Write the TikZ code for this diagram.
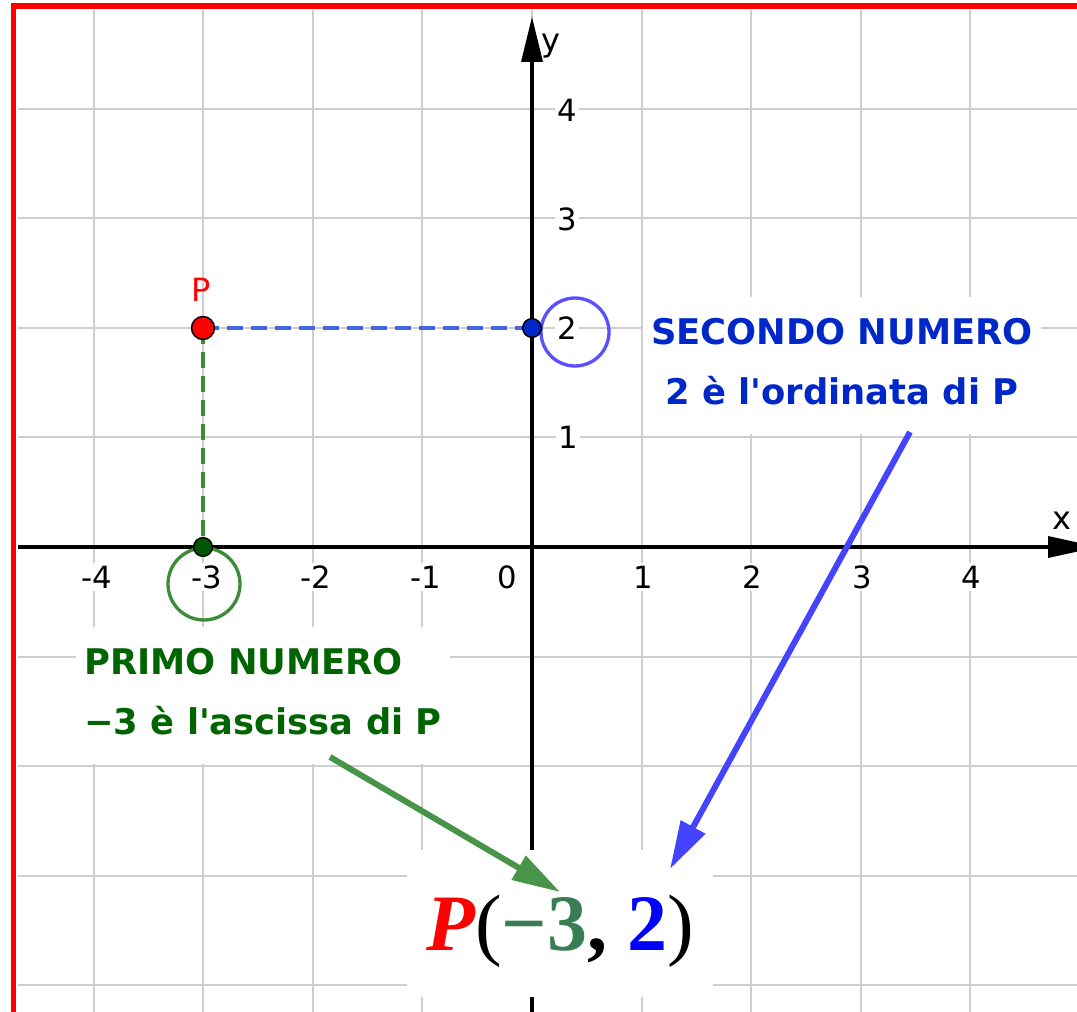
\documentclass[tikz,border=0pt]{standalone}
\usepackage{fontspec}
\setmainfont{DejaVu Sans}[Ligatures=TeXOff]
\newfontfamily\serifF{Liberation Serif}
\usetikzlibrary{arrows.meta}
\definecolor{gridc}{RGB}{206,206,206}
\definecolor{bordred}{RGB}{255,0,0}
\definecolor{txtgreen}{RGB}{0,100,0}
\definecolor{txtblue}{RGB}{0,40,200}
\definecolor{arrgreen}{RGB}{72,148,72}
\definecolor{arrblue}{RGB}{68,68,255}
\definecolor{circblue}{RGB}{90,80,255}
\definecolor{circgreen}{RGB}{60,140,60}
\definecolor{dashblue}{RGB}{70,100,220}
\definecolor{dashgreen}{RGB}{60,140,60}
\definecolor{ptblue}{RGB}{0,40,200}
\definecolor{ptgreen}{RGB}{0,85,0}
\definecolor{fgreen}{RGB}{58,125,85}
\begin{document}
\begin{tikzpicture}[x=0.75pt,y=-0.75pt,
  gridline/.style={draw=gridc, line width=1.4pt},
  axisline/.style={draw=black, line width=2.6pt},
  ticklab/.style={fill=white, inner sep=2pt, font=\fontsize{23}{27}\selectfont},
  infobox/.style={fill=white, inner xsep=6pt, inner ysep=16pt, font=\bfseries\fontsize{26.5}{45}\selectfont},
  pointdot/.style={draw=black, line width=1.1pt},
  callarrow/.style={line width=4.5pt, -{Triangle[length=36pt,width=20pt]}},
  markcircle/.style={line width=2.5pt},
  dashln/.style={line width=3.2pt, dash pattern=on 12pt off 6pt}
]
\useasboundingbox (0,0) rectangle (1077,1012);
\clip (0,0) rectangle (1077,1012);
\fill[white] (0,0) rectangle (1077,1012);
% grid
\foreach \k in {-4,...,4} {
  \draw[gridline] ({532+109.6*\k},10) -- ({532+109.6*\k},1012);
  \draw[gridline] (18,{547-109.6*\k}) -- (1077,{547-109.6*\k});
}
% tick labels
\node[ticklab] (xm4) at (97,577) {-4};
\node[ticklab] (xm3) at (207,577) {-3};
\node[ticklab] (xm2) at (316,577) {-2};
\node[ticklab] (xm1) at (426,577) {-1};
\node[ticklab] (x0) at (507,577) {0};
\node[ticklab] (x1) at (643,577) {1};
\node[ticklab] (x2) at (752,577) {2};
\node[ticklab] (x3) at (862,577) {3};
\node[ticklab] (x4) at (971,577) {4};
\node[ticklab] (y4) at (567,110) {4};
\node[ticklab] (y3) at (567,219) {3};
\node[ticklab] (y2) at (567,328) {2};
\node[ticklab] (y1) at (568,437) {1};
% axes
\draw[axisline] (18,547) -- (1050,547);
\fill[black] (1048,536) -- (1098,547) -- (1048,558) -- cycle;
\draw[axisline] (532,1012) -- (532,60);
\fill[black] (521,62) -- (532,17) -- (543,62) -- cycle;
\node[font=\fontsize{24}{28}\selectfont] (ylab) at (551,46) {y};
\node[font=\fontsize{24}{28}\selectfont] (xlab) at (1062,521) {x};
% points as coordinates
\coordinate (P) at (203,328);
\coordinate (Py) at (532,328);
\coordinate (Px) at (203,547);
% dashed projections
\draw[dashln, dashblue] (P) -- (Py);
\draw[dashln, dashgreen] (P) -- (Px);
% circles
\draw[markcircle, circblue] (575,332) circle[radius=25.5pt];
\draw[markcircle, circgreen] (204,584) circle[radius=27pt];
% points
\fill[pointdot, fill=red] (P) circle[radius=8.6pt];
\fill[pointdot, fill=ptblue] (Py) circle[radius=7pt];
\fill[pointdot, fill=ptgreen] (Px) circle[radius=7pt];
\node[text=red, font=\fontsize{24}{28}\selectfont] (Plab) at (201,290) {P};
% info boxes
\node[infobox, text=txtgreen, align=left, anchor=north west] (primo) at (76,627)
  {PRIMO NUMERO\\−3 è l'ascissa di P\vphantom{g}};
\node[infobox, text=txtblue, align=center, anchor=north] (secondo) at (842,297)
  {SECONDO NUMERO\\2 è l'ordinata di P\vphantom{g}};
% formula
\node[fill=white, anchor=base, inner xsep=14pt, inner ysep=22.5pt,
      text height=52.5pt, text depth=12.75pt,
      font=\serifF\fontsize{60}{62}\selectfont] (coord) at (560,950)
  {{\color{red}\bfseries\itshape P}({\bfseries\color{fgreen}−3}{\bfseries,} {\bfseries\color{blue}2})};
% arrows
\coordinate (gs) at (330,757);
\coordinate (ge) at (560,892);
\coordinate (bs) at (910,432);
\coordinate (be) at (670,869);
\draw[callarrow, arrgreen] (gs) -- (ge);
\draw[callarrow, arrblue] (bs) -- (be);
% red border
\draw[bordred, line width=4.4pt] (13.5,1012) -- (13.5,6) -- (1077,6);
\end{tikzpicture}
\end{document}
